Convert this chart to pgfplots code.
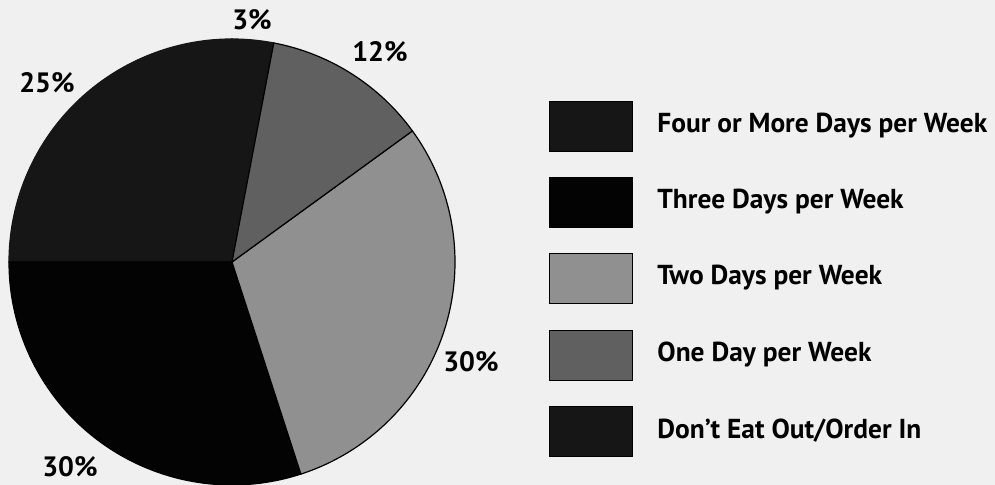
\documentclass[border=0pt]{standalone}
\usepackage{pgfplots}
\pgfplotsset{compat=1.18}
\usepackage{pgfplotstable}
\usepackage{fontspec}
\setmainfont{PT Sans}
\definecolor{bg}{HTML}{F0F0F0}
\definecolor{cFour}{HTML}{161616}
\definecolor{cThree}{HTML}{030303}
\definecolor{cTwo}{HTML}{909090}
\definecolor{cOne}{HTML}{606060}
\definecolor{cDont}{HTML}{161616}
% slice: start angle, percent, colour, outline
\newcommand\slice[4]{%
  \fill[#3,draw=#4,line width=0.6pt] (axis cs:232,223) -- ++({#1}:111.5pt)
    arc[start angle={#1}, end angle={#1+3.6*#2}, radius=111.5pt] -- cycle;}
\newcommand\lab[3]{\node[font=\fontsize{14}{16}\selectfont\bfseries] at (axis cs:#1,#2) {#3};}
\newcommand\legrow[3]{%
  \fill[#2,draw=black,line width=0.4pt] (axis cs:549,{485-#1+25}) rectangle (axis cs:632,{485-#1-25});
  \node[anchor=west,inner sep=0pt,font=\fontsize{13.7}{16}\selectfont\bfseries] at (axis cs:657,{485-#1}) {#3};}
\begin{document}
\begin{tikzpicture}
\begin{axis}[
  x=0.5pt, y=0.5pt,
  xmin=0, xmax=995, ymin=0, ymax=485,
  hide axis, clip=true,
]
\fill[bg] (axis cs:0,0) rectangle (axis cs:995,485);
% slices, counter-clockwise from 79.2 degrees
\slice{79.2}{3}{cDont}{cDont}
\slice{90}{25}{cFour}{cFour}
\slice{180}{30}{cThree}{black}
\slice{288}{30}{cTwo}{black}
\slice{396}{12}{cOne}{black}
% percentage labels
\lab{252}{465}{3\%}
\lab{380}{433}{12\%}
\lab{47}{402}{25\%}
\lab{471}{123}{30\%}
\lab{70}{18}{30\%}
% legend
\legrow{126}{cFour}{Four or More Days per Week}
\legrow{202}{cThree}{Three Days per Week}
\legrow{278}{cTwo}{Two Days per Week}
\legrow{355}{cOne}{One Day per Week}
\legrow{431}{cDont}{Don’t Eat Out/Order In}
\end{axis}
\pgfresetboundingbox
\useasboundingbox (current axis.south west) rectangle (current axis.north east);
\end{tikzpicture}
\end{document}
